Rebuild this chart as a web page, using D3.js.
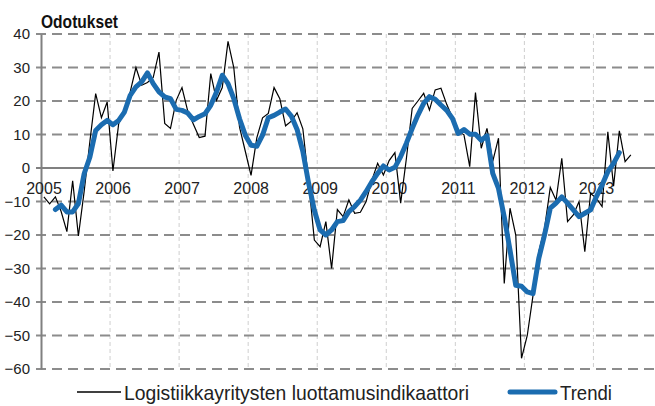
<!DOCTYPE html>
<html lang="fi">
<head>
<meta charset="UTF-8">
<title>Odotukset</title>
<script src="https://d3js.org/d3.v7.min.js"></script>
<style>
  body { margin: 0; background: #fff; }
  svg { display: block; font-family: "Liberation Sans", Arial, Helvetica, sans-serif; }
</style>
</head>
<body>
<div id="chart"></div>
<script>
// monthly data, first value = January 2005
var startYear = 2005;
var indicator = [
  -8.6, -10.7, -8.6, -13, -19, -3.8, -20.3, -7, 8, 22.2, 15, 19.7,
  -0.9, 13.2, 17, 22.7, 30, 24.7, 25.5, 27, 34.6, 13.3, 11.8, 20.2,
  24, 17, 13, 9.1, 9.5, 28.2, 20.2, 24, 37.8, 30, 12.2, 5,
  -2.2, 9, 15, 16.3, 24, 20.7, 12.6, 14, 16.5, 11.7, -4, -21.5,
  -23.5, -16, -30, -12.4, -14.5, -9.5, -13.5, -13.2, -10, -3.6, 1.4, -2.1,
  2.2, 4.6, -10.5, 2.9, 17.8, 20, 22.3, 17.3, 23.3, 23.8, 19, 15,
  11, 9.9, 0.4, 22.5, 5.9, 11.8, 2, 8.9, -34.5, -12, -20, -56.8,
  -50, -38, -25, -18, -5.8, -9.6, 2.9, -16, -14, -10, -25, -7.6,
  -9, -11.5, 10.8, -5.4, 11.1, 1.9, 3.9
];
// trend starts in March 2005
var trendStart = 2;
var trend = [
  -12.4, -11.1, -13.1, -13.1, -10.6, -1.7, 3.3, 11.2, 12.9, 14.2,
  12.9, 14.2, 16.7, 21.7, 24.2, 25.7, 28.4, 25.2, 22.7, 21.2, 20.7, 17.5,
  17.2, 16.4, 14.4, 15.4, 16.2, 18.7, 22.7, 27.7, 25.2, 20.7, 14.7, 9.8,
  6.8, 6.5, 9.8, 15, 15.7, 16.7, 17.6, 15.5, 11.5, 5, -4.5, -12.6,
  -18.5, -20, -18.5, -16, -15.7, -13, -11.5, -9.6, -7, -4.1, -1.6, 0.6,
  -0.6, 0.2, 3.4, 7.4, 11.8, 15.8, 19.3, 21.3, 20.5, 18.8, 17.2, 14.8,
  10.3, 11.5, 10.1, 10.1, 8.3, 9.6, -1.6, -6.1, -14.6, -24.5, -35, -35.3,
  -37, -37.5, -27, -20, -12, -10.5, -8.6, -10.5, -12.5, -14.5, -13.5, -12.5,
  -8.6, -5.1, -1.1, 1.4, 4.6
];
var years = [2005, 2006, 2007, 2008, 2009, 2010, 2011, 2012, 2013];
var yTicks = [40, 30, 20, 10, 0, -10, -20, -30, -40, -50, -60];

var W = 655, H = 406;
var svg = d3.select("#chart").append("svg")
  .attr("width", W).attr("height", H);

var x = d3.scaleLinear().domain([2005, 2014]).range([41, 662.5]);
var y = d3.scaleLinear().domain([-60, 40]).range([369, 34]);

// month index -> fractional year (points sit mid-month)
function t(i) { return startYear + (i + 0.5) / 12; }

// vertical year grid
svg.append("g").selectAll("line")
  .data(years.slice(1))
  .enter().append("line")
  .attr("x1", function(d) { return x(d); })
  .attr("x2", function(d) { return x(d); })
  .attr("y1", y(40)).attr("y2", y(-60))
  .attr("stroke", "#cfcfcf")
  .attr("stroke-width", 1)
  .attr("stroke-dasharray", "4,3");

// horizontal dashed grid
svg.append("g").selectAll("line")
  .data(yTicks.filter(function(d) { return d != 0; }))
  .enter().append("line")
  .attr("x1", 36).attr("x2", W)
  .attr("y1", function(d) { return y(d); })
  .attr("y2", function(d) { return y(d); })
  .attr("stroke", "#8c8c8c")
  .attr("stroke-width", 1.8)
  .attr("stroke-dasharray", "10,6");

// zero line
svg.append("line")
  .attr("x1", 36).attr("x2", W)
  .attr("y1", y(0)).attr("y2", y(0))
  .attr("stroke", "#808080")
  .attr("stroke-width", 2);

// y axis
var yAxis = svg.append("g")
  .attr("transform", "translate(" + x(2005) + ",0)")
  .call(d3.axisLeft(y).tickValues(yTicks).tickSize(0).tickPadding(11));
yAxis.select(".domain").attr("stroke", "#808080").attr("stroke-width", 2);
yAxis.selectAll("text")
  .attr("font-size", 15)
  .attr("fill", "#222")
  .attr("font-family", "Liberation Sans, Arial, sans-serif");

// year labels along the zero line
svg.append("g").selectAll("text")
  .data(years)
  .enter().append("text")
  .attr("x", function(d) { return x(d) + 3; })
  .attr("y", y(0) + 26)
  .attr("text-anchor", "middle")
  .attr("font-size", 16)
  .attr("fill", "#222")
  .text(function(d) { return d; });

// indicator line
var line = d3.line()
  .x(function(d) { return x(d.t); })
  .y(function(d) { return y(d.v); });

svg.append("path")
  .datum(indicator.map(function(v, i) { return {t: t(i), v: v}; }))
  .attr("d", line)
  .attr("fill", "none")
  .attr("stroke", "#000")
  .attr("stroke-width", 1.2)
  .attr("stroke-linejoin", "miter");

// trend
svg.append("path")
  .datum(trend.map(function(v, i) { return {t: t(i + trendStart), v: v}; }))
  .attr("d", line)
  .attr("fill", "none")
  .attr("stroke", "#1b6cb0")
  .attr("stroke-width", 5)
  .attr("stroke-linejoin", "round")
  .attr("stroke-linecap", "round");

// title
svg.append("text")
  .attr("x", 41).attr("y", 28)
  .attr("font-size", 18)
  .attr("font-weight", "bold")
  .attr("fill", "#111")
  .attr("textLength", 77)
  .attr("lengthAdjust", "spacingAndGlyphs")
  .text("Odotukset");

// legend
var lg = svg.append("g");
lg.append("line")
  .attr("x1", 77).attr("x2", 121).attr("y1", 392).attr("y2", 392)
  .attr("stroke", "#000").attr("stroke-width", 1.5);
lg.append("text")
  .attr("x", 124).attr("y", 400)
  .attr("font-size", 21)
  .attr("fill", "#222")
  .attr("textLength", 345)
  .attr("lengthAdjust", "spacingAndGlyphs")
  .text("Logistiikkayritysten luottamusindikaattori");
lg.append("line")
  .attr("x1", 510).attr("x2", 555).attr("y1", 392).attr("y2", 392)
  .attr("stroke", "#1b6cb0").attr("stroke-width", 5)
  .attr("stroke-linecap", "round");
lg.append("text")
  .attr("x", 560).attr("y", 400)
  .attr("font-size", 21)
  .attr("fill", "#222")
  .attr("textLength", 52)
  .attr("lengthAdjust", "spacingAndGlyphs")
  .text("Trendi");
</script>
</body>
</html>
